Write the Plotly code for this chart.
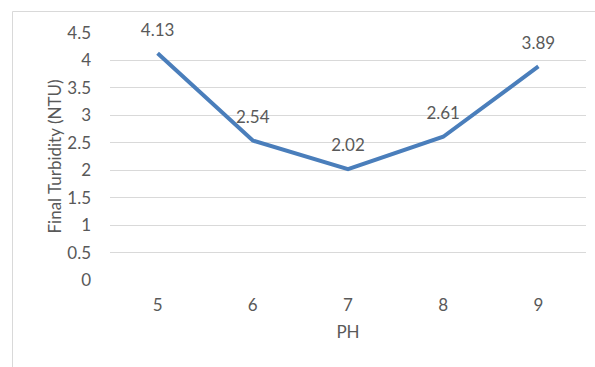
import plotly.graph_objects as go

# pH levels tested and the resulting final turbidity
ph_levels = ["5", "6", "7", "8", "9"]
turbidity = [4.13, 2.54, 2.02, 2.61, 3.89]
y_ticks = [0, 0.5, 1, 1.5, 2, 2.5, 3, 3.5, 4, 4.5]

W, H = 595, 367
L, R, T, B = 110, 9, 33, 87
TEXT = "#595959"
GRID = "#d9d9d9"
FONT = "Lato, Open Sans, sans-serif"
FS = 17

fig = go.Figure()
fig.add_trace(go.Scatter(
    x=ph_levels,
    y=turbidity,
    mode="lines+markers+text",
    line=dict(color="#4a7ebb", width=4),
    # invisible markers only serve to lift the value labels off the line
    marker=dict(size=20, opacity=0, color="#4a7ebb"),
    text=[f"{v:.2f}" for v in turbidity],
    texttemplate="%{text}",
    textposition="top center",
    textfont=dict(family=FONT, size=FS, color=TEXT),
    cliponaxis=False,
    hoverinfo="x+y",
))

pw = W - L - R
ph = H - T - B
base = H - B  # pixel row of y = 0


def py(v):
    return (base - v) / ph


def px(v):
    return (v - L) / pw


# outer chart frame
fig.add_shape(
    type="rect", xref="paper", yref="paper",
    x0=px(12.5), x1=px(W + 5),
    y0=py(H + 5), y1=py(11.5),
    line=dict(color=GRID, width=1), fillcolor="rgba(0,0,0,0)",
    layer="below",
)

fig.update_layout(
    width=W, height=H,
    margin=dict(l=L, r=R, t=T, b=B),
    paper_bgcolor="white", plot_bgcolor="white",
    showlegend=False,
    font=dict(family=FONT, size=FS, color=TEXT),
    xaxis=dict(
        type="category", range=[-0.5, 4.5],
        showgrid=False, showline=False, zeroline=False,
        ticks="", ticklabelstandoff=13,
        tickfont=dict(family=FONT, size=FS, color=TEXT),
        title=dict(text="PH", font=dict(family=FONT, size=FS, color=TEXT), standoff=12),
    ),
    yaxis=dict(
        range=[0, 4.5], tickvals=y_ticks,
        ticktext=[f"{v:g}" for v in y_ticks],
        showgrid=True, gridcolor=GRID, gridwidth=1,
        zeroline=False, showline=False, ticks="",
        ticklabelstandoff=18,
        tickfont=dict(family=FONT, size=FS, color=TEXT),
        title=dict(text="Final Turbidity (NTU)", font=dict(family=FONT, size=FS, color=TEXT), standoff=1),
    ),
)

fig.write_html("out.html")
